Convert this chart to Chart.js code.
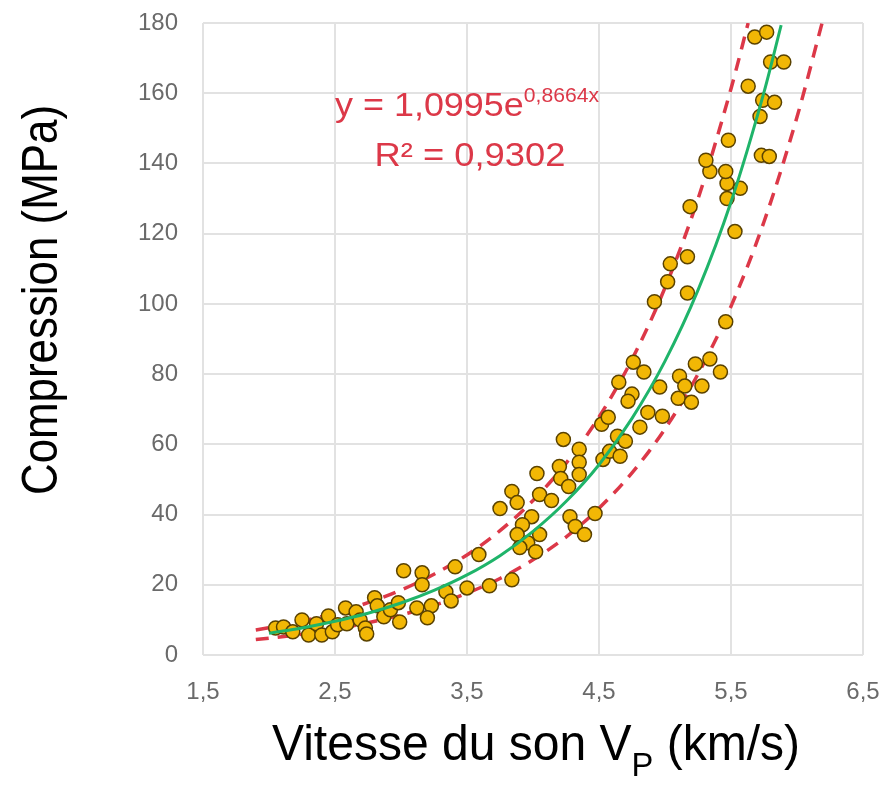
<!DOCTYPE html>
<html>
<head>
<meta charset="utf-8">
<script src="https://cdn.jsdelivr.net/npm/chart.js@4.4.1/dist/chart.umd.min.js"></script>
<style>
  html, body { margin: 0; padding: 0; background: #fff; }
</style>
</head>
<body>
<canvas id="grafico" width="888" height="792"></canvas>
<script>
// mesures : vitesse du son (km/s) et résistance à la compression (MPa)
const vitesse = [
  2.05, 2.11, 2.18, 2.25, 2.30, 2.36, 2.40, 2.45, 2.48, 2.52, 2.58, 2.59, 2.66, 2.69, 2.73, 2.74,
  2.80, 2.82, 2.87, 2.92, 2.98, 2.99, 3.02, 3.16, 3.16, 3.12, 3.23, 3.20, 3.34, 3.38, 3.41, 3.50,
  3.59, 3.67, 3.84, 3.75, 3.84, 3.88, 3.99, 3.92, 3.88, 4.05, 3.96, 4.02, 3.90, 4.03, 4.05, 4.14,
  4.23, 4.20, 4.21, 4.35, 4.35, 4.35, 4.27, 4.28, 4.32, 4.39, 4.47, 4.52, 4.57, 4.53, 4.58, 4.66,
  4.64, 4.70, 4.65, 4.76, 4.84, 4.75, 4.72, 4.81, 4.87, 4.98, 4.96, 5.11, 5.15, 5.10, 5.20, 5.23,
  5.34, 5.42, 5.28, 5.46, 4.92, 5.02, 5.04, 5.17, 5.17, 5.19, 5.53, 5.47, 5.57, 5.47, 5.34, 5.46,
  5.31, 5.73, 5.79, 5.48, 5.72, 5.74, 5.83, 5.63, 5.80, 5.90, 5.68, 5.77
];
const compression = [
  7.7, 8.0, 6.6, 10.0, 5.7, 8.9, 5.7, 11.1, 6.6, 8.6, 13.4, 8.9, 12.3, 10.0, 7.7, 6.0,
  16.3, 14.0, 10.9, 12.9, 14.9, 9.4, 24.0, 23.4, 20.0, 13.4, 14.0, 10.6, 18.0, 15.4, 25.1, 19.1,
  28.6, 19.7, 21.4, 41.7, 46.6, 43.4, 39.4, 37.1, 34.3, 34.3, 32.0, 29.4, 30.6, 51.7, 45.7, 44.0,
  61.4, 53.7, 50.3, 58.6, 54.9, 51.4, 48.0, 39.4, 36.6, 34.3, 40.3, 65.7, 67.7, 55.7, 58.0, 56.6,
  62.3, 60.9, 77.7, 83.4, 80.6, 74.3, 72.3, 64.9, 69.1, 68.0, 76.3, 79.4, 76.6, 73.1, 72.0, 82.9,
  84.3, 80.6, 76.6, 94.9, 100.6, 106.3, 111.4, 113.4, 103.1, 127.7, 120.6, 130.0, 132.9, 134.3, 137.7, 137.7,
  140.9, 142.3, 142.0, 146.6, 153.4, 158.0, 157.4, 162.0, 168.9, 168.9, 176.0, 177.4
];

// courbe de tendance (verte)
const ajusteX = [2.0, 2.25, 2.5, 2.75, 3.0, 3.25, 3.5, 3.75, 4.0, 4.25, 4.5, 4.75, 5.0, 5.25, 5.5, 5.75, 5.88];
const ajusteY = [6.2, 7.7, 9.6, 11.9, 14.8, 18.4, 22.8, 28.3, 35.2, 43.7, 54.2, 67.4, 83.7, 103.9, 129.0, 160.3, 179.4];

// limites en pointillés rouges
const hautX = [1.9, 2.25, 2.5, 2.75, 3.0, 3.25, 3.5, 3.75, 4.0, 4.25, 4.5, 4.75, 5.0, 5.25, 5.5, 5.63];
const hautY = [7.1, 9.6, 12.0, 14.9, 18.5, 23.0, 28.5, 35.4, 44.0, 54.6, 67.8, 84.2, 104.6, 129.9, 161.3, 180];
const basX = [1.9, 2.25, 2.5, 2.75, 3.0, 3.25, 3.5, 3.75, 4.0, 4.25, 4.5, 4.75, 5.0, 5.25, 5.5, 5.75, 6.0, 6.19];
const basY = [4.4, 5.9, 7.4, 9.2, 11.4, 14.1, 17.6, 21.8, 27.1, 33.6, 41.8, 51.9, 64.4, 80.0, 99.3, 123.4, 153.2, 180];

const ticksX = [1.5, 2.5, 3.5, 4.5, 5.5, 6.5];
const ticksY = [0, 20, 40, 60, 80, 100, 120, 140, 160, 180];

const police = '"Liberation Sans", Arial, sans-serif';
const rouge = '#dc3848';

function paires(xs, ys) {
  return xs.map((v, i) => ({ x: v, y: ys[i] }));
}

// écrit des morceaux de texte (indices, exposants) centrés sur cx, étirés à la largeur voulue
function ecrire(ctx, morceaux, cx, base, largeur) {
  let total = 0;
  morceaux.forEach(m => {
    ctx.font = m.px + 'px ' + police;
    m.w = ctx.measureText(m.t).width;
    total += m.w;
  });
  const k = largeur ? largeur / total : 1;
  ctx.save();
  ctx.translate(cx, base);
  ctx.scale(k, 1);
  ctx.textAlign = 'left';
  ctx.textBaseline = 'alphabetic';
  let xx = -total / 2;
  morceaux.forEach(m => {
    ctx.font = m.px + 'px ' + police;
    ctx.fillText(m.t, xx, m.dy || 0);
    xx += m.w;
  });
  ctx.restore();
}

const textes = {
  id: 'textes',
  afterDraw(chart) {
    const ctx = chart.ctx;
    const sx = chart.scales.x, sy = chart.scales.y;

    ctx.fillStyle = '#000';
    ecrire(ctx, [
      { t: 'Vitesse du son V', px: 50 },
      { t: 'P', px: 34, dy: 16 },
      { t: ' (km/s)', px: 50 }
    ], 536, 760, 528);

    ctx.save();
    ctx.translate(57, 300);
    ctx.rotate(-Math.PI / 2);
    ecrire(ctx, [{ t: 'Compression (MPa)', px: 50 }], 0, 0, 390);
    ctx.restore();

    ctx.fillStyle = rouge;
    const cx = sx.getPixelForValue(3.5);
    ecrire(ctx, [
      { t: 'y = 1,0995e', px: 34 },
      { t: '0,8664x', px: 20, dy: -14 }
    ], cx, sy.getPixelForValue(153.5), 264);
    ecrire(ctx, [{ t: 'R² = 0,9302', px: 34 }], cx + 3, sy.getPixelForValue(139.3), 191);
  }
};

const grille = { color: '#e2e2e2', lineWidth: 2, drawTicks: false };
const tickFont = { family: police, size: 24 };

new Chart(document.getElementById('grafico'), {
  type: 'scatter',
  data: {
    datasets: [
      {
        label: 'Tendance',
        data: paires(ajusteX, ajusteY),
        showLine: true,
        borderColor: '#1fb46a',
        borderWidth: 3,
        pointRadius: 0,
        cubicInterpolationMode: 'monotone',
        order: 0
      },
      {
        label: 'Mesures',
        data: paires(vitesse, compression),
        backgroundColor: '#f2b705',
        borderColor: '#5a4200',
        borderWidth: 1.5,
        pointRadius: 7,
        order: 1
      },
      {
        label: 'Limite haute',
        data: paires(hautX, hautY),
        showLine: true,
        borderColor: rouge,
        borderWidth: 3.5,
        borderDash: [13, 9],
        pointRadius: 0,
        cubicInterpolationMode: 'monotone',
        order: 2
      },
      {
        label: 'Limite basse',
        data: paires(basX, basY),
        showLine: true,
        borderColor: rouge,
        borderWidth: 3.5,
        borderDash: [13, 9],
        pointRadius: 0,
        cubicInterpolationMode: 'monotone',
        order: 3
      }
    ]
  },
  options: {
    responsive: false,
    animation: false,
    layout: { padding: { top: 23, right: 25, left: 0, bottom: 0 } },
    plugins: {
      legend: { display: false },
      tooltip: { enabled: false }
    },
    scales: {
      x: {
        type: 'linear',
        min: 1.5,
        max: 6.5,
        afterBuildTicks: s => { s.ticks = ticksX.map(v => ({ value: v })); },
        afterFit: s => { s.height = 137; s.paddingLeft = 0; s.paddingRight = 0; },
        grid: grille,
        border: { display: false },
        ticks: {
          padding: 23,
          color: '#6a6a6a',
          font: tickFont,
          callback: v => v.toFixed(1).replace('.', ',')
        }
      },
      y: {
        min: 0,
        max: 180,
        afterBuildTicks: s => { s.ticks = ticksY.map(v => ({ value: v })); },
        afterFit: s => { s.width = 203; s.paddingTop = 0; s.paddingBottom = 0; },
        grid: grille,
        border: { display: false },
        ticks: {
          padding: 25,
          color: '#6a6a6a',
          font: tickFont,
          callback: v => String(v)
        }
      }
    }
  },
  plugins: [textes]
});
</script>
</body>
</html>
